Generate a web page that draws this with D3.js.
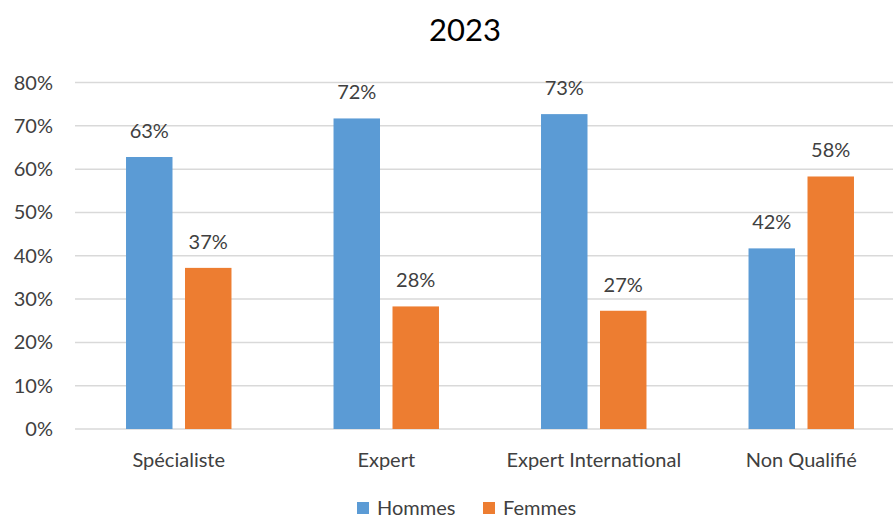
<!DOCTYPE html>
<html>
<head>
<meta charset="utf-8">
<script src="https://cdn.jsdelivr.net/npm/d3@7"></script>
<style>
  body { margin: 0; background: #fff; }
  text { font-family: "Lato", "Noto Sans", sans-serif; }
</style>
</head>
<body>
<svg id="chart" width="893" height="519"></svg>
<script>
var categories = ["Spécialiste", "Expert", "Expert International", "Non Qualifié"];
var seriesNames = ["Hommes", "Femmes"];
var hommes = [62.8, 71.7, 72.7, 41.7];
var femmes = [37.2, 28.3, 27.3, 58.3];
var yTicks = [0, 10, 20, 30, 40, 50, 60, 70, 80];
var colors = ["#5B9BD5", "#ED7D31"];

var svg = d3.select("#chart");
var width = +svg.attr("width"),
    height = +svg.attr("height");

// plot area runs past the right edge in the original
var x = d3.scaleBand().domain(categories).range([75, 905]);
var y = d3.scaleLinear().domain([0, 80]).range([429, 82.5]);

// title
svg.append("text")
    .attr("x", 465).attr("y", 41)
    .attr("text-anchor", "middle")
    .attr("font-size", "31px")
    .attr("fill", "#000")
    .text("2023");

// gridlines
svg.append("g").selectAll("line")
  .data(yTicks)
  .enter().append("line")
    .attr("x1", 75).attr("x2", width)
    .attr("y1", function(d) { return y(d); })
    .attr("y2", function(d) { return y(d); })
    .attr("stroke", "#D9D9D9")
    .attr("stroke-width", 1.5);

// y labels
svg.append("g").selectAll("text")
  .data(yTicks)
  .enter().append("text")
    .attr("x", 53)
    .attr("y", function(d) { return y(d); })
    .attr("dy", "0.35em")
    .attr("text-anchor", "end")
    .attr("font-size", "20px")
    .attr("fill", "#404040")
    .text(function(d) { return d + "%"; });

var inner = d3.scaleBand().domain(seriesNames).range([0, x.bandwidth()])
    .paddingInner(0.212).paddingOuter(0.865);

var rows = categories.map(function(c, i) {
  return {cat: c, vals: [hommes[i], femmes[i]]};
});

var groups = svg.append("g").selectAll("g")
  .data(rows)
  .enter().append("g")
    .attr("transform", function(d) { return "translate(" + x(d.cat) + ",0)"; });

groups.selectAll("rect")
  .data(function(d) { return d.vals.map(function(v, j) { return {name: seriesNames[j], v: v, j: j}; }); })
  .enter().append("rect")
    .attr("x", function(d) { return inner(d.name); })
    .attr("width", inner.bandwidth())
    .attr("y", function(d) { return y(d.v); })
    .attr("height", function(d) { return y(0) - y(d.v); })
    .attr("fill", function(d) { return colors[d.j]; });

groups.selectAll("text.lbl")
  .data(function(d) { return d.vals.map(function(v, j) { return {name: seriesNames[j], v: v, j: j}; }); })
  .enter().append("text")
    .attr("class", "lbl")
    .attr("x", function(d) { return inner(d.name) + inner.bandwidth() / 2; })
    .attr("y", function(d) { return y(d.v) - 19; })
    .attr("text-anchor", "middle")
    .attr("font-size", "20px")
    .attr("fill", "#404040")
    .text(function(d) { return Math.round(d.v) + "%"; });

// category labels
svg.append("g").selectAll("text")
  .data(categories)
  .enter().append("text")
    .attr("x", function(d) { return x(d) + x.bandwidth() / 2; })
    .attr("y", 467)
    .attr("text-anchor", "middle")
    .attr("font-size", "20px")
    .attr("fill", "#404040")
    .text(function(d) { return d; });

// legend (nudged up a bit so the descenders stay inside the frame)
var legendX = [357, 483];
var legend = svg.append("g").selectAll("g")
  .data(seriesNames)
  .enter().append("g")
    .attr("transform", function(d, i) { return "translate(" + legendX[i] + ",502)"; });
legend.append("rect")
  .attr("width", 12).attr("height", 12)
  .attr("fill", function(d, i) { return colors[i]; });
legend.append("text")
  .attr("x", 20).attr("y", 6).attr("dy", "0.35em")
  .attr("font-size", "20px")
  .attr("fill", "#404040")
  .text(function(d) { return d; });
</script>
</body>
</html>
